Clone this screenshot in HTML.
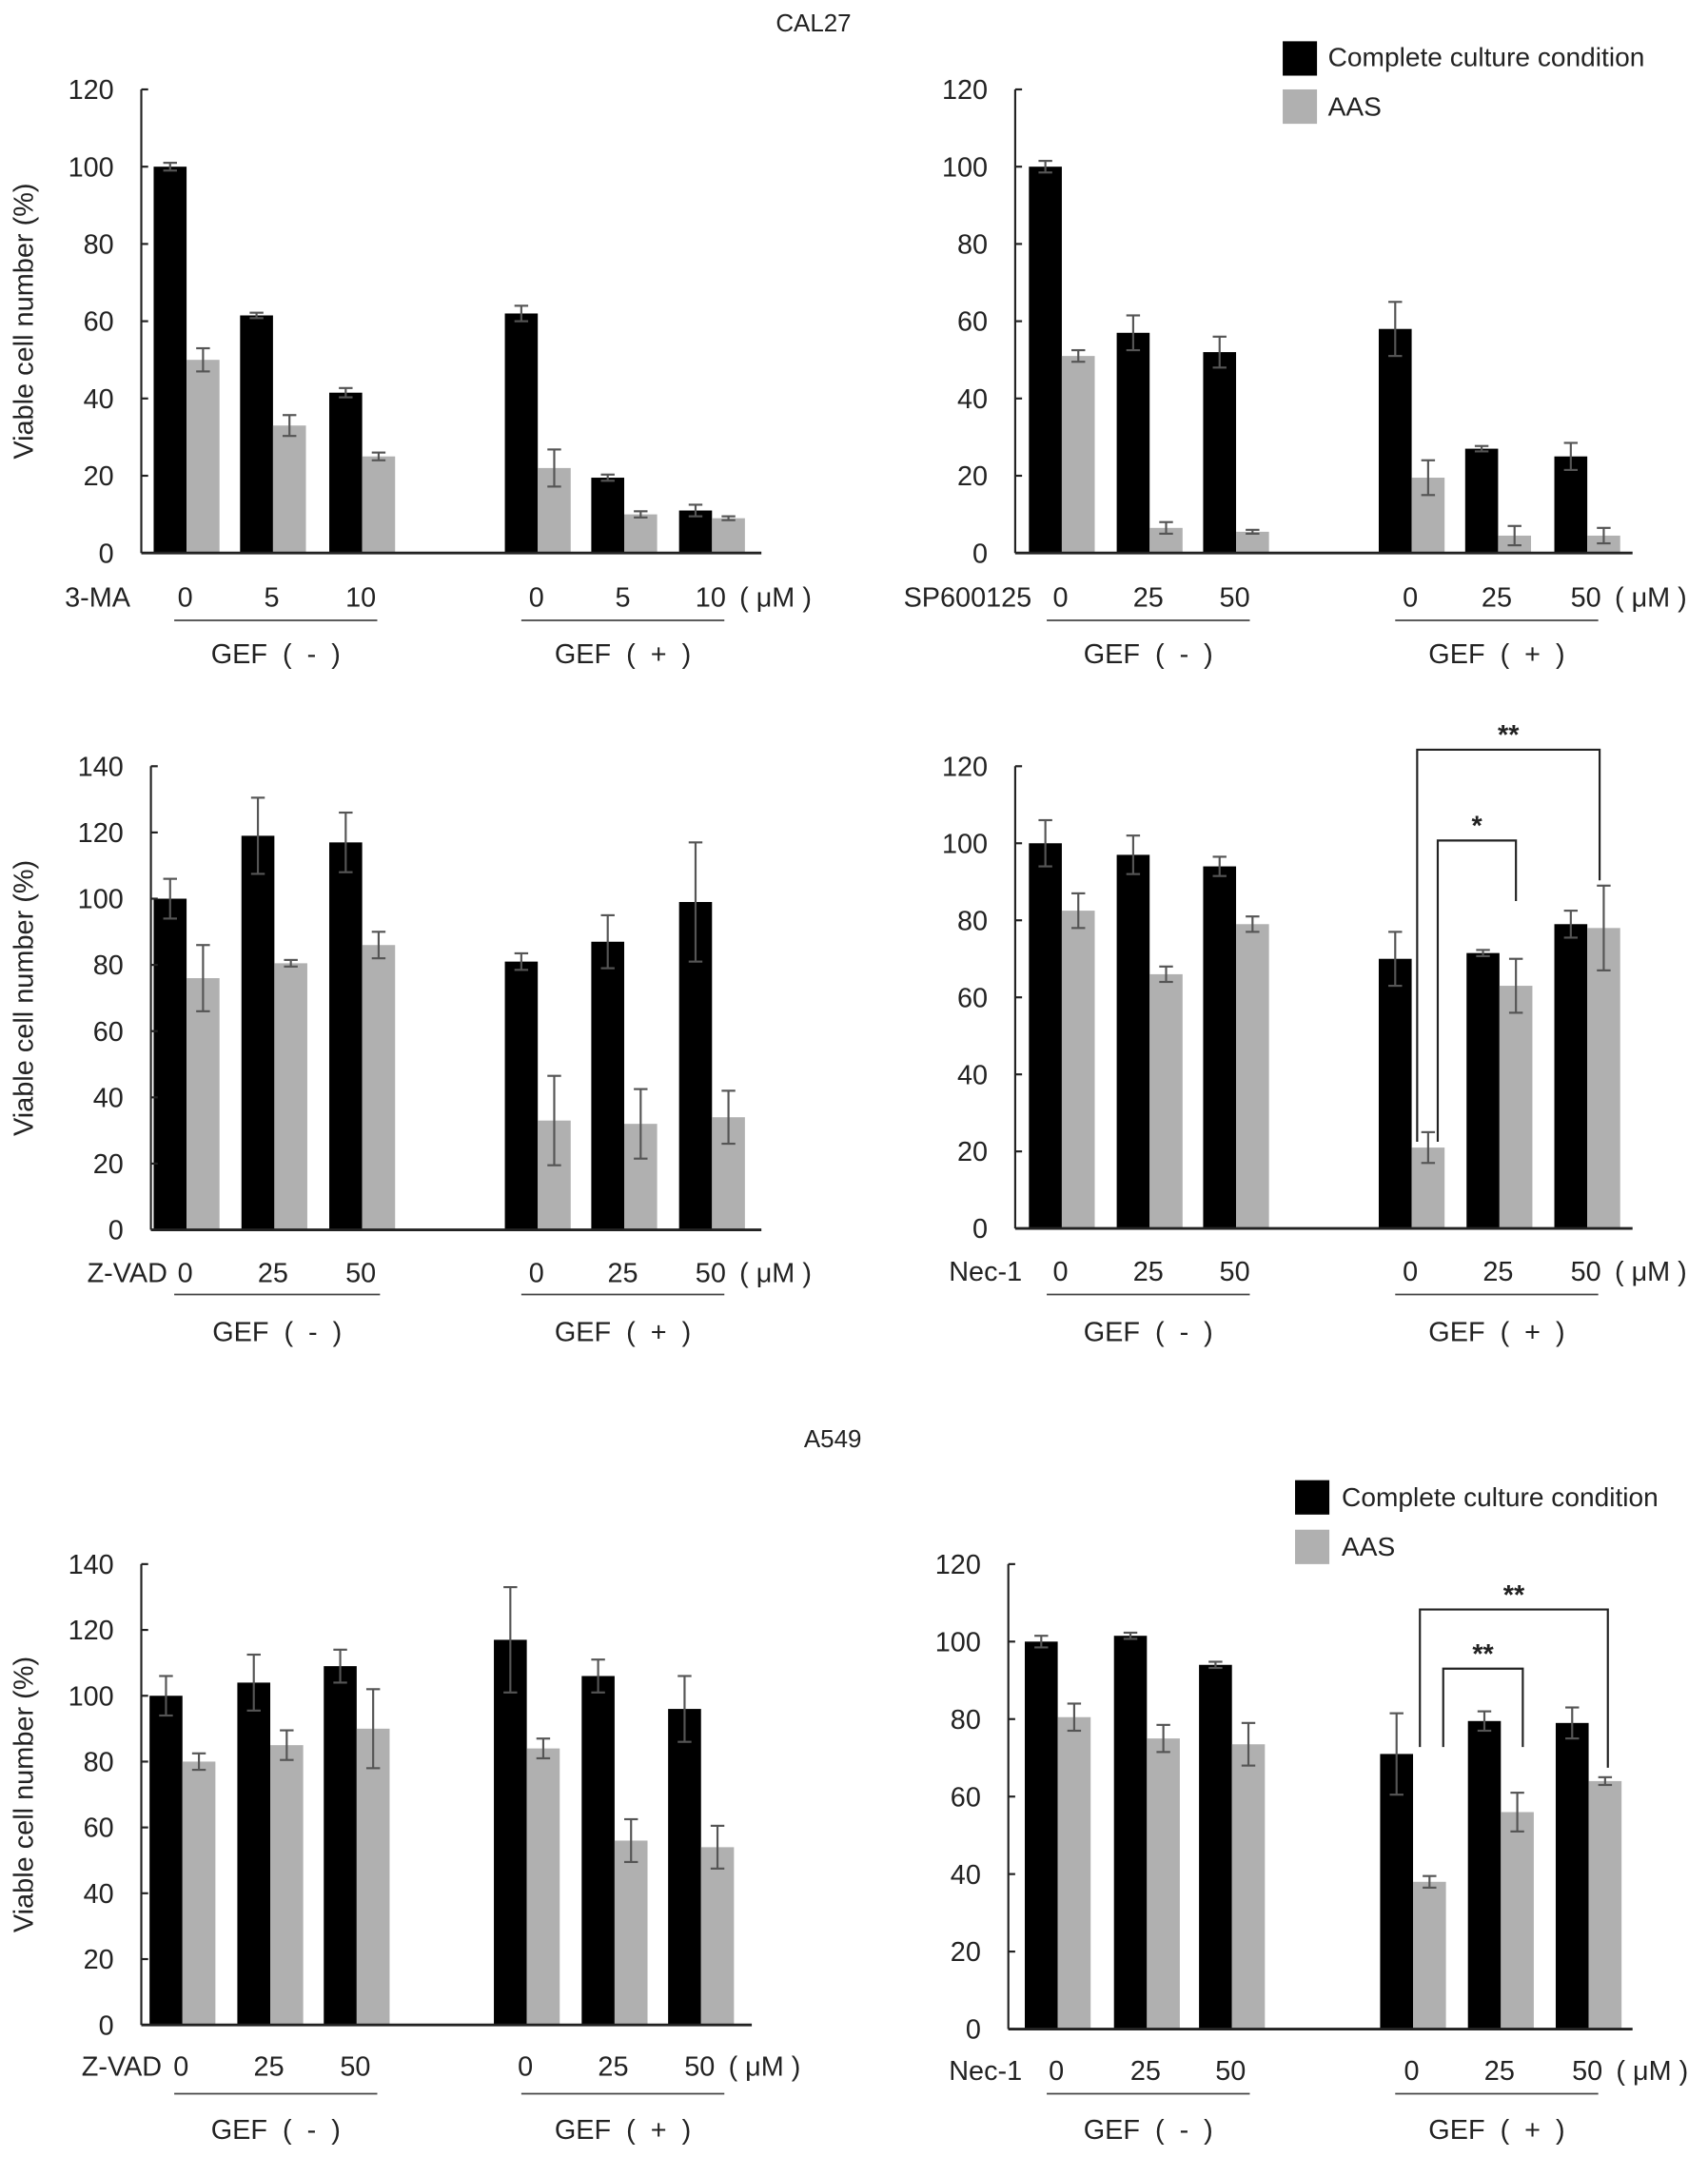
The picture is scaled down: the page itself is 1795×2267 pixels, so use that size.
<!DOCTYPE html>
<html><head><meta charset="utf-8"><style>
html,body{margin:0;padding:0;background:#fff}
svg{display:block}
text{font-family:"Liberation Sans",Arial,sans-serif;fill:#222;white-space:pre}
</style></head><body>
<svg id="fig" width="1795" height="2267" viewBox="0 0 1245 1568" preserveAspectRatio="none" xmlns="http://www.w3.org/2000/svg">
<text x="593" y="23" font-size="18" text-anchor="middle">CAL27</text>
<text x="607" y="1052" font-size="18" text-anchor="middle">A549</text>
<g>
<rect x="935" y="30" width="25" height="25" fill="#000"/><text x="968" y="48" font-size="19.5">Complete culture condition</text>
<rect x="935" y="65" width="25" height="25" fill="#b0b0b0"/><text x="968" y="84" font-size="19.5">AAS</text>
</g>
<g>
<rect x="944" y="1076" width="25" height="25" fill="#000"/><text x="978" y="1095" font-size="19.5">Complete culture condition</text>
<rect x="944" y="1112" width="25" height="25" fill="#b0b0b0"/><text x="978" y="1131" font-size="19.5">AAS</text>
</g>
</svg>
<script>
// Panel data (values in %)
const p1Black=[100,61.5,41.5,62,19.5,11];
const p1BlackErr=[1,0.7,1.2,2,0.8,1.5];
const p1Gray=[50,33,25,22,10,9];
const p1GrayErr=[3,2.7,1,4.8,0.8,0.5];
const p2Black=[100,57,52,58,27,25];
const p2BlackErr=[1.5,4.5,4,7,0.7,3.5];
const p2Gray=[51,6.5,5.5,19.5,4.5,4.5];
const p2GrayErr=[1.5,1.5,0.5,4.5,2.5,2];
const p3Black=[100,119,117,81,87,99];
const p3BlackErr=[6,11.5,9,2.5,8,18];
const p3Gray=[76,80.5,86,33,32,34];
const p3GrayErr=[10,1,4,13.5,10.5,8];
const p4Black=[100,97,94,70,71.5,79];
const p4BlackErr=[6,5,2.5,7,0.8,3.5];
const p4Gray=[82.5,66,79,21,63,78];
const p4GrayErr=[4.5,2,2,4,7,11];
const p5Black=[100,104,109,117,106,96];
const p5BlackErr=[6,8.5,5,16,5,10];
const p5Gray=[80,85,90,84,56,54];
const p5GrayErr=[2.5,4.5,12,3,6.5,6.5];
const p6Black=[100,101.5,94,71,79.5,79];
const p6BlackErr=[1.5,0.8,0.8,10.5,2.5,4];
const p6Gray=[80.5,75,73.5,38,56,64];
const p6GrayErr=[3.5,3.5,5.5,1.5,5,1];
const ticks120=[0,20,40,60,80,100,120];
const ticks140=[0,20,40,60,80,100,120,140];
const doses3MA=["0","5","10","0","5","10"];
const dosesStd=["0","25","50","0","25","50"];

const NS="http://www.w3.org/2000/svg";
const svg=document.getElementById('fig');
function mk(tag,attrs,parent){const e=document.createElementNS(NS,tag);for(const k in attrs)e.setAttribute(k,attrs[k]);(parent||svg).appendChild(e);return e;}

const panels=[
 {id:'p1',ax:103,top:65,zero:402,xend:555,max:120,ticks:ticks120,bx:[124,187,252,380,443,507],b:p1Black,be:p1BlackErr,g:p1Gray,ge:p1GrayErr,doses:doses3MA,drug:'3-MA',drugX:95,labY:441,ul:[[127,275],[380,528]],ulY:451,gefY:482,title:true},
 {id:'p2',ax:740,top:65,zero:402,xend:1190,max:120,ticks:ticks120,bx:[762,826,889,1017,1080,1145],b:p2Black,be:p2BlackErr,g:p2Gray,ge:p2GrayErr,doses:dosesStd,drug:'SP600125',drugX:752,labY:441,ul:[[763,911],[1017,1165]],ulY:451,gefY:482},
 {id:'p3',ax:110,top:557,zero:894,xend:555,max:140,ticks:ticks140,bx:[124,188,252,380,443,507],b:p3Black,be:p3BlackErr,g:p3Gray,ge:p3GrayErr,doses:dosesStd,drug:'Z-VAD',drugX:122,labY:932,ul:[[127,277],[380,528]],ulY:941,gefY:975,title:true},
 {id:'p4',ax:740,top:557,zero:893,xend:1190,max:120,ticks:ticks120,bx:[762,826,889,1017,1081,1145],b:p4Black,be:p4BlackErr,g:p4Gray,ge:p4GrayErr,doses:dosesStd,drug:'Nec-1',drugX:745,labY:931,ul:[[763,911],[1017,1165]],ulY:941,gefY:975,
   brackets:[{x1:1033,x2:1166,y:545,d1:830,d2:640,lab:'**'},{x1:1048,x2:1105,y:611,d1:830,d2:655,lab:'*'}]},
 {id:'p5',ax:103,top:1137,zero:1472,xend:548,max:140,ticks:ticks140,bx:[121,185,248,372,436,499],b:p5Black,be:p5BlackErr,g:p5Gray,ge:p5GrayErr,doses:dosesStd,drug:'Z-VAD',drugX:118,labY:1509,ul:[[127,275],[380,528]],ulY:1522,gefY:1555,title:true},
 {id:'p6',ax:735,top:1137,zero:1475,xend:1190,max:120,ticks:ticks120,bx:[759,824,886,1018,1082,1146],b:p6Black,be:p6BlackErr,g:p6Gray,ge:p6GrayErr,doses:dosesStd,drug:'Nec-1',drugX:745,labY:1512,ul:[[763,911],[1017,1165]],ulY:1522,gefY:1555,
   brackets:[{x1:1035,x2:1172,y:1170,d1:1270,d2:1285,lab:'**'},{x1:1052,x2:1110,y:1213,d1:1270,d2:1270,lab:'**'}]}
];
const BW=24;
panels.forEach(p=>{
 const g=mk('g',{});
 
 
 const y=v=>p.zero-(v/p.max)*(p.zero-p.top);
 p.b.forEach((v,i)=>{
  const cx=p.bx[i];
  const r=mk('rect',{x:cx-BW/2,y:y(v),width:BW,height:p.zero-y(v),fill:'#000'},g);
  
  
  const gv=p.g[i];
  const r2=mk('rect',{x:cx+BW/2,y:y(gv),width:BW,height:p.zero-y(gv),fill:'#b0b0b0'},g);
  
  
  [[cx,v,p.be[i]],[cx+BW,gv,p.ge[i]]].forEach(([ex,val,e])=>{
   const eg=mk('g',{stroke:'#555','stroke-width':1.5},g);
   
   
   mk('line',{x1:ex,x2:ex,y1:y(val+e),y2:y(val-e)},eg);
   mk('line',{x1:ex-5,x2:ex+5,y1:y(val+e),y2:y(val+e)},eg);
   mk('line',{x1:ex-5,x2:ex+5,y1:y(val-e),y2:y(val-e)},eg);
  });
 });
 const ya=mk('line',{x1:p.ax,x2:p.ax,y1:p.top,y2:p.zero,stroke:'#222','stroke-width':1.5},g);
 
 
 const xa=mk('line',{x1:p.ax,x2:p.xend,y1:p.zero,y2:p.zero,stroke:'#222','stroke-width':2},g);
 
 
 p.ticks.forEach(t=>{
  mk('line',{x1:p.ax,x2:p.ax+5,y1:y(t),y2:y(t),stroke:'#222','stroke-width':1.5},g);
  const tx=mk('text',{x:p.ax-20,y:y(t)+7,'font-size':20,'text-anchor':'end'},g);
  tx.textContent=t;
  
  
 });
 if(p.title){
  const tt=mk('text',{x:0,y:0,'font-size':20,'text-anchor':'middle',transform:`translate(24,${(p.top+p.zero)/2}) rotate(-90)`},g);
  tt.textContent='Viable cell number (%)';
  
  
 }
 const dl=mk('text',{x:p.drugX,y:p.labY,'font-size':20,'text-anchor':'end'},g);
 dl.textContent=p.drug;
 
 
 p.doses.forEach((d,i)=>{
  const t=mk('text',{x:p.bx[i]+11,y:p.labY,'font-size':20,'text-anchor':'middle'},g);
  t.textContent=d;
  
  
 });
 const um=mk('text',{x:p.bx[5]+32,y:p.labY,'font-size':20},g);
 um.textContent='( μM )';
 
 
 ['GEF  (  -  )','GEF  (  +  )'].forEach((s,k)=>{
  mk('line',{x1:p.ul[k][0],x2:p.ul[k][1],y1:p.ulY,y2:p.ulY,stroke:'#444','stroke-width':1.2},g);
  const t=mk('text',{x:(p.ul[k][0]+p.ul[k][1])/2,y:p.gefY,'font-size':20,'text-anchor':'middle'},g);
  t.textContent=s;
  
  
 });
 (p.brackets||[]).forEach(b=>{
  const pl=mk('polyline',{points:`${b.x1},${b.d1} ${b.x1},${b.y} ${b.x2},${b.y} ${b.x2},${b.d2}`,fill:'none',stroke:'#222','stroke-width':1.5},g);
  
  
  const t=mk('text',{x:(b.x1+b.x2)/2,y:b.y-4,'font-size':20,'text-anchor':'middle','font-weight':'bold'},g);
  t.textContent=b.lab;
  
  
 });
});
</script>
</body></html>
